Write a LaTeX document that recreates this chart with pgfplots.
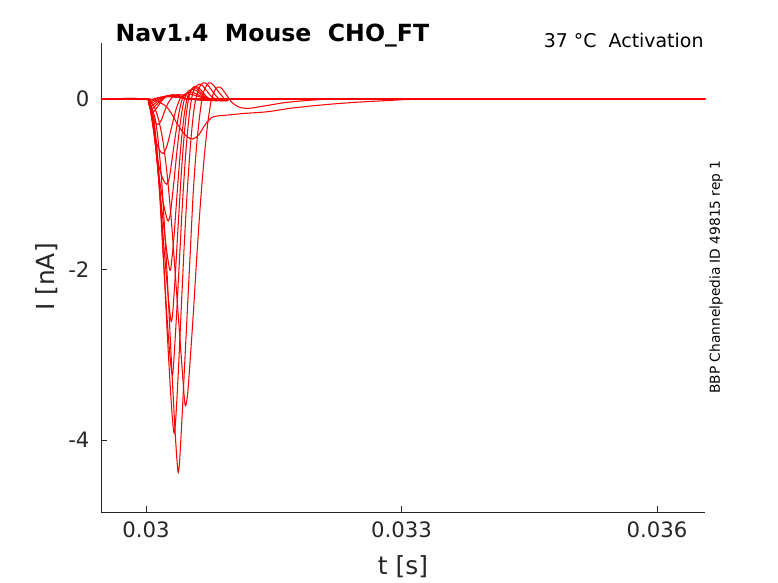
\documentclass[border=0pt]{standalone}
\usepackage{pgfplots}
\pgfplotsset{compat=1.18}
\usepackage{fontspec}
\setmainfont{DejaVu Sans}
\definecolor{axgray}{RGB}{38,38,38}
\begin{document}
\begin{tikzpicture}
\useasboundingbox (0,0) rectangle (778bp,583bp);
\begin{axis}[
  at={(101bp,71bp)}, anchor=south west,
  scale only axis, width=604bp, height=469bp,
  xmin=0.029472, xmax=0.036564, ymin=-4.845, ymax=0.657,
  axis x line*=bottom, axis y line*=left,
  axis line style={draw=axgray, line width=0.6pt, -},
  tick align=inside, major tick length=6bp,
  tick style={draw=axgray, line width=0.6pt},
  scaled x ticks=false, scaled y ticks=false,
  xtick={0.03,0.033,0.036}, xticklabels={0.03,0.033,0.036},
  ytick={-4,-2,0}, yticklabels={-4,-2,0},
  ticklabel style={font=\fontsize{21.3}{24}\selectfont, text=axgray},
  xticklabel style={yshift=-6.5bp},
  yticklabel style={xshift=-8bp},
  tr/.style={draw=red, line width=1.05pt, smooth, tension=0.5, mark=none},
]
% near-reversal small traces
\addplot[tr] coordinates {(0.029472,0) (0.03,0) (0.030045,-0.015) (0.03009,0) (0.03016,0.02) (0.03028,0.025) (0.03045,0.01) (0.03055,0) (0.0315,0.005) (0.0325,-0.005) (0.034,0.005) (0.036564,0)};
\addplot[tr] coordinates {(0.029472,0) (0.03,0) (0.030025,-0.02) (0.03005,-0.035) (0.03009,-0.015) (0.03014,0.01) (0.03022,0.03) (0.03032,0.03) (0.03045,0.01) (0.03055,0) (0.0315,0) (0.036564,0)};
\addplot[tr] coordinates {(0.029472,0) (0.03,0) (0.03003,-0.03) (0.03006,-0.055) (0.0301,-0.03) (0.03015,0) (0.03022,0.03) (0.0303,0.035) (0.03042,0.02) (0.03055,0) (0.0315,-0.005) (0.033,0.005) (0.036564,0)};
\addplot[tr] coordinates {(0.029472,0) (0.03,0) (0.03003,-0.035) (0.03005,-0.07) (0.03007,-0.08) (0.03011,-0.05) (0.03016,-0.01) (0.03022,0.03) (0.0303,0.04) (0.03042,0.02) (0.03055,0) (0.0315,0) (0.036564,0)};
\addplot[tr] coordinates {(0.029472,0) (0.03,0) (0.03003,-0.04) (0.030055,-0.09) (0.03008,-0.11) (0.03012,-0.07) (0.03017,-0.02) (0.03023,0.03) (0.03031,0.045) (0.03042,0.03) (0.03055,0) (0.0315,0) (0.036564,0)};
\addplot[tr] coordinates {(0.029472,0) (0.03,0) (0.03003,-0.05) (0.03006,-0.12) (0.03009,-0.15) (0.03013,-0.1) (0.03018,-0.03) (0.03024,0.03) (0.03032,0.05) (0.03042,0.03) (0.03055,0) (0.0315,0) (0.036564,0)};
\addplot[tr] coordinates {(0.029472,0) (0.03,0) (0.03003,-0.05) (0.03007,-0.18) (0.03011,-0.27) (0.03014,-0.3) (0.03018,-0.25) (0.03022,-0.14) (0.03027,-0.03) (0.03033,0.04) (0.0304,0.05) (0.0305,0.03) (0.0306,0) (0.0315,0) (0.036564,0)};
% H -0.64
\addplot[tr] coordinates {(0.029472,0) (0.03,0) (0.03004,-0.08) (0.03008,-0.3) (0.03012,-0.5) (0.03016,-0.6) (0.0302,-0.64) (0.03024,-0.57) (0.03028,-0.42) (0.03032,-0.25) (0.03036,-0.1) (0.03041,0.02) (0.03047,0.06) (0.03055,0.05) (0.03065,0.02) (0.03075,0) (0.0316,0) (0.036564,0)};
% G -1.0
\addplot[tr] coordinates {(0.029472,0) (0.03,0) (0.03005,-0.1) (0.0301,-0.45) (0.03015,-0.78) (0.0302,-0.94) (0.030243,-1.0) (0.030275,-0.92) (0.03031,-0.68) (0.03035,-0.4) (0.03039,-0.15) (0.03043,0.01) (0.03048,0.07) (0.03054,0.08) (0.03061,0.05) (0.0307,0.01) (0.0308,0) (0.0316,0) (0.036564,0)};
% F -1.43
\addplot[tr] coordinates {(0.029472,0) (0.03,0) (0.03005,-0.1) (0.0301,-0.45) (0.03015,-0.88) (0.0302,-1.2) (0.03024,-1.38) (0.030262,-1.43) (0.030285,-1.35) (0.03032,-1.05) (0.03036,-0.65) (0.0304,-0.3) (0.03044,-0.05) (0.03048,0.07) (0.03053,0.11) (0.03059,0.1) (0.03066,0.04) (0.03075,0) (0.0309,0) (0.036564,0)};
% E -2.01
\addplot[tr] coordinates {(0.029472,0) (0.03,0) (0.03005,-0.08) (0.0301,-0.42) (0.03015,-0.95) (0.0302,-1.42) (0.03025,-1.83) (0.030282,-2.01) (0.0303,-1.92) (0.03033,-1.6) (0.03037,-1.05) (0.03041,-0.55) (0.03045,-0.18) (0.03049,0.03) (0.03054,0.12) (0.03059,0.13) (0.03065,0.07) (0.03073,0) (0.03085,-0.01) (0.03095,0) (0.036564,0)};
% D -2.61
\addplot[tr] coordinates {(0.029472,0) (0.03,0) (0.03005,-0.08) (0.0301,-0.4) (0.03015,-0.95) (0.0302,-1.6) (0.03025,-2.2) (0.03028,-2.5) (0.030297,-2.61) (0.030315,-2.5) (0.030345,-2.05) (0.03038,-1.45) (0.03042,-0.8) (0.03046,-0.3) (0.0305,0) (0.03054,0.12) (0.03059,0.15) (0.03065,0.1) (0.03072,0.02) (0.03082,-0.02) (0.03095,0) (0.036564,0)};
% C -3.24
\addplot[tr] coordinates {(0.029472,0) (0.03,0) (0.03005,-0.07) (0.0301,-0.35) (0.03015,-0.95) (0.0302,-1.8) (0.03025,-2.6) (0.030285,-3.05) (0.030309,-3.24) (0.030325,-3.1) (0.030355,-2.6) (0.03039,-1.95) (0.03043,-1.2) (0.03047,-0.6) (0.03051,-0.17) (0.03055,0.07) (0.0306,0.16) (0.03065,0.17) (0.03071,0.1) (0.03078,0.02) (0.03088,-0.02) (0.031,0) (0.036564,0)};
% B -3.92
\addplot[tr] coordinates {(0.029472,0) (0.03,0) (0.03005,-0.06) (0.0301,-0.3) (0.03015,-0.85) (0.0302,-1.75) (0.03025,-2.75) (0.03029,-3.45) (0.030315,-3.8) (0.030332,-3.92) (0.03035,-3.75) (0.03038,-3.2) (0.03041,-2.55) (0.03045,-1.7) (0.03049,-1.0) (0.03053,-0.45) (0.03057,-0.08) (0.03062,0.12) (0.03067,0.19) (0.03072,0.17) (0.03078,0.09) (0.03086,0) (0.03095,-0.02) (0.03105,0) (0.036564,0)};
% A -4.38
\addplot[tr] coordinates {(0.029472,0) (0.03,0) (0.03005,-0.05) (0.03012,-0.3) (0.03018,-0.9) (0.03024,-1.9) (0.030275,-2.6) (0.03031,-3.3) (0.030345,-3.95) (0.030365,-4.25) (0.030379,-4.38) (0.030395,-4.25) (0.03042,-3.8) (0.03045,-3.2) (0.03048,-2.6) (0.03052,-1.8) (0.030555,-1.1) (0.03059,-0.6) (0.03063,-0.2) (0.03067,0.06) (0.03072,0.17) (0.03076,0.19) (0.03081,0.14) (0.03088,0.05) (0.03096,-0.02) (0.0311,0) (0.036564,0)};
% J -3.60 slow
\addplot[tr] coordinates {(0.029472,0) (0.03,0) (0.03005,-0.03) (0.0301,-0.1) (0.03015,-0.25) (0.0302,-0.5) (0.03025,-0.9) (0.0303,-1.45) (0.03034,-2.0) (0.03038,-2.55) (0.03042,-3.1) (0.03045,-3.5) (0.030466,-3.6) (0.03049,-3.45) (0.03052,-3.05) (0.03056,-2.45) (0.0306,-1.8) (0.030645,-1.15) (0.03069,-0.62) (0.03073,-0.25) (0.03077,0) (0.03082,0.12) (0.03087,0.14) (0.03093,0.07) (0.031,-0.03) (0.03108,-0.09) (0.0312,-0.11) (0.0314,-0.08) (0.03165,-0.04) (0.032,-0.01) (0.0324,0) (0.036564,0)};
% K -0.47 slow threshold
\addplot[tr] coordinates {(0.029472,0) (0.03,0) (0.0301,-0.01) (0.03018,-0.05) (0.03024,-0.09) (0.0303,-0.17) (0.03036,-0.28) (0.03042,-0.37) (0.03048,-0.44) (0.03055,-0.47) (0.03062,-0.42) (0.03067,-0.34) (0.03071,-0.28) (0.03077,-0.22) (0.03083,-0.2) (0.031,-0.185) (0.03114,-0.17) (0.03142,-0.15) (0.03169,-0.11) (0.03196,-0.08) (0.0323,-0.05) (0.0328,-0.02) (0.0335,0) (0.036564,0)};
\end{axis}
\node[anchor=base west, font=\fontsize{23.7}{26}\selectfont\bfseries] at (112bp,541.3bp) {Nav1.4\ \ Mouse\ \ CHO\_FT};
\node[anchor=base east, font=\fontsize{19}{22}\selectfont] at (707bp,535.3bp) {37 °C\ \ Activation};
\node[rotate=90, anchor=center, font=\fontsize{13.8}{16}\selectfont] at (716bp,306bp) {BBP Channelpedia ID 49815 rep 1};
\node[anchor=center, font=\fontsize{25}{28}\selectfont, text=axgray] at (403bp,16bp) {t [s]};
\node[rotate=90, anchor=center, font=\fontsize{25}{28}\selectfont, text=axgray] at (47bp,306bp) {I [nA]};
\end{tikzpicture}
\end{document}
